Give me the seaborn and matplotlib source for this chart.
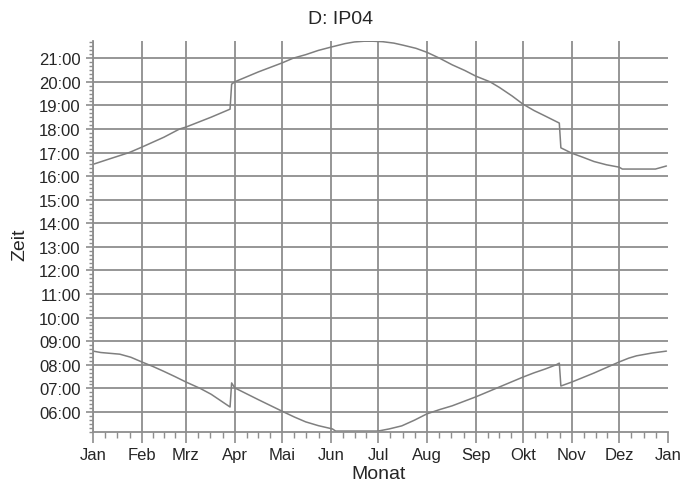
import matplotlib
matplotlib.use("Agg")
import matplotlib.pyplot as plt
from matplotlib.ticker import FixedLocator, FixedFormatter, MultipleLocator, FuncFormatter
import numpy as np
import pandas as pd
import seaborn as sns

# Month boundaries (day of year) and labels
month_starts = [0, 31, 59, 90, 120, 151, 181, 212, 243, 273, 304, 334, 365]
month_labels = ["Jan", "Feb", "Mrz", "Apr", "Mai", "Jun", "Jul",
                "Aug", "Sep", "Okt", "Nov", "Dez", "Jan"]

# Sunset (upper curve): day of year, time in hours
sunset_day = [0, 10, 23, 31, 45, 55, 59, 75, 87, 88, 90, 105, 120, 127, 135, 143, 151,
              160, 166, 172, 178, 184, 191, 197, 205, 212, 220, 228, 236, 243, 252,
              258, 266, 273, 280, 287, 296, 297, 304, 311, 318, 326, 334, 336, 357,
              364]
sunset_time = [16.50, 16.72, 17.00, 17.23, 17.65, 18.00, 18.08, 18.50, 18.84, 19.90,
               20.00, 20.42, 20.80, 21.00, 21.15, 21.33, 21.47, 21.62, 21.69, 21.72,
               21.72, 21.70, 21.64, 21.55, 21.42, 21.25, 21.00, 20.72, 20.48, 20.24,
               20.00, 19.76, 19.40, 19.05, 18.78, 18.55, 18.25, 17.20, 16.97, 16.80,
               16.62, 16.48, 16.38, 16.30, 16.30, 16.43]

# Sunrise (lower curve): day of year, time in hours
sunrise_day = [0, 5, 17, 24, 31, 38, 45, 52, 59, 68, 75, 87, 88, 90, 105, 121, 128,
               135, 143, 152, 154, 181, 188, 196, 204, 212, 220, 228, 243, 258, 273,
               280, 287, 294, 296, 297, 304, 318, 334, 340, 345, 355, 364]
sunrise_time = [8.58, 8.52, 8.45, 8.32, 8.12, 7.93, 7.72, 7.50, 7.27, 7.00, 6.75,
                6.21, 7.23, 7.02, 6.52, 6.00, 5.78, 5.58, 5.42, 5.28, 5.19, 5.19,
                5.28, 5.41, 5.65, 5.92, 6.10, 6.26, 6.64, 7.06, 7.48, 7.66, 7.82,
                8.00, 8.07, 7.10, 7.27, 7.65, 8.12, 8.28, 8.38, 8.50, 8.58]

sunset = pd.DataFrame({"Tag": sunset_day, "Zeit": sunset_time})
sunrise = pd.DataFrame({"Tag": sunrise_day, "Zeit": sunrise_time})

sns.set_style("white")
plt.rcParams["font.family"] = ["Liberation Sans", "DejaVu Sans"]

grid_col = "#8e8e8e"
line_col = "#7f7f7f"

fig = plt.figure(figsize=(6.98, 4.89), dpi=100)
ax = fig.add_axes([93 / 698, 1 - 433 / 489, 575 / 698, 391 / 489])

sns.lineplot(data=sunset, x="Tag", y="Zeit", ax=ax, sort=False,
             estimator=None, color=line_col, linewidth=1.1)
sns.lineplot(data=sunrise, x="Tag", y="Zeit", ax=ax, sort=False,
             estimator=None, color=line_col, linewidth=1.1)

ax.set_xlim(0, 365)
ax.set_ylim(5.15, 21.73)

# x axis: months, each split into quarters for minor ticks
ax.xaxis.set_major_locator(FixedLocator(month_starts))
ax.xaxis.set_major_formatter(FixedFormatter(month_labels))
minor_x = []
for a, b in zip(month_starts[:-1], month_starts[1:]):
    step = (b - a) / 4
    minor_x += [a + step * k for k in (1, 2, 3)]
ax.xaxis.set_minor_locator(FixedLocator(minor_x))

# y axis: hours with 10-minute minor ticks
ax.yaxis.set_major_locator(FixedLocator(list(range(6, 22))))
ax.yaxis.set_major_formatter(FuncFormatter(lambda v, p: f"{int(round(v)):02d}:00"))
ax.yaxis.set_minor_locator(MultipleLocator(1 / 6))

ax.grid(True, which="major", color=grid_col, linewidth=1.3)
ax.set_axisbelow(True)
for g in ax.xaxis.get_gridlines()[-1:]:
    g.set_visible(False)

for side in ("top", "right"):
    ax.spines[side].set_visible(False)
for side in ("left", "bottom"):
    ax.spines[side].set_color(grid_col)
    ax.spines[side].set_linewidth(1.3)

ax.tick_params(axis="x", which="major", length=8, width=1.2, color=grid_col,
               labelsize=12, pad=3, direction="out", bottom=True)
ax.tick_params(axis="x", which="minor", length=4, width=1.0, color=grid_col,
               direction="out", bottom=True)
ax.tick_params(axis="y", which="major", length=5, width=1.2, color=grid_col,
               labelsize=12, pad=4, direction="out", left=True)
ax.tick_params(axis="y", which="minor", length=3, width=1.0, color=grid_col,
               direction="out", left=True)

ax.set_xlabel("Monat", fontsize=14, va="center")
ax.xaxis.set_label_coords(0.497, (433 - 475) / 391)
ax.set_ylabel("Zeit", fontsize=14, va="center")
ax.yaxis.set_label_coords((20 - 93) / 575, (433 - 245) / 391)

fig.text(341 / 698, 1 - 20 / 489, "D: IP04", fontsize=14, ha="center", va="center")

fig.savefig("out.png", dpi=100, facecolor="white")
